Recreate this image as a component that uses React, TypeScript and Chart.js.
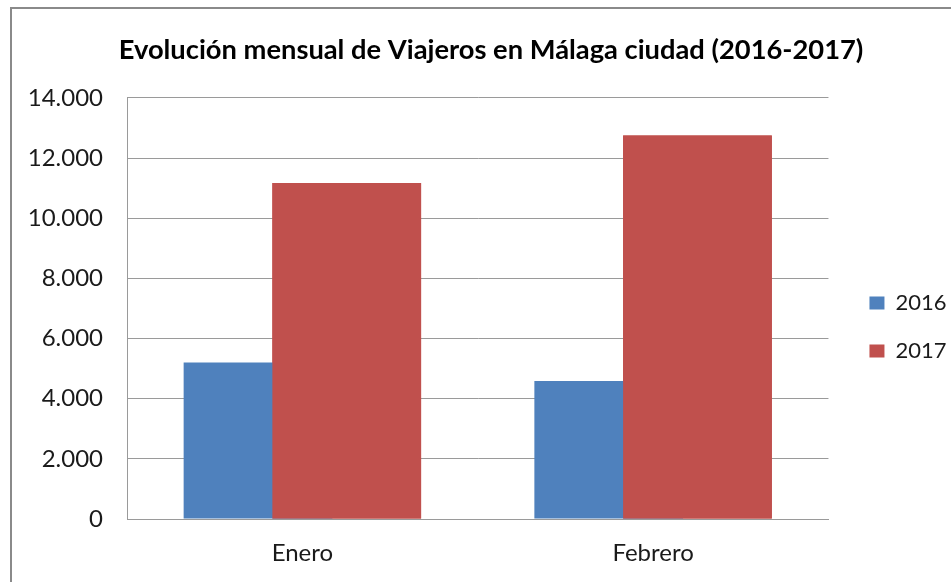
import React, { useEffect, useRef } from 'react';
import { Chart, registerables } from 'chart.js';

Chart.register(...registerables);

const chartTitle = 'Evolución mensual de Viajeros en Málaga ciudad (2016-2017)';
const categories = ['Enero', 'Febrero'];
const seriesLabels = ['2016', '2017'];
const values2016 = [5203, 4591];
const values2017 = [11176, 12754];
const yTickValues = [0, 2000, 4000, 6000, 8000, 10000, 12000, 14000];
const yTickLabels = ['0', '2.000', '4.000', '6.000', '8.000', '10.000', '12.000', '14.000'];
const seriesColors = ['#4F81BD', '#C0504D'];

// Excel-style overlap: later series drawn over the earlier one
const overlapPlugin = {
  id: 'overlapOrder',
  afterDatasetsDraw(chart: any) {
    const n = chart.data.datasets.length;
    for (let i = 1; i < n; i++) {
      const meta = chart.getDatasetMeta(i);
      if (meta && meta.visible !== false && meta.controller) meta.controller.draw();
    }
  },
};

export default function App() {
  const canvasRef = useRef<HTMLCanvasElement | null>(null);

  useEffect(() => {
    if (!canvasRef.current) return;
    const labelFont = { family: 'Lato', size: 24 };
    const legendFont = { family: 'Lato', size: 22 };
    const textColor = '#1a1a1a';
    const lineColor = '#9a9a9a';
    const sidePad = 15.5;
    const chart = new Chart(canvasRef.current, {
      type: 'bar',
      data: {
        labels: categories,
        datasets: [
          {
            label: seriesLabels[0],
            data: values2016,
            backgroundColor: seriesColors[0],
            categoryPercentage: 0.506,
            barPercentage: 1.676,
          },
          {
            label: seriesLabels[1],
            data: values2017,
            backgroundColor: seriesColors[1],
            categoryPercentage: 0.506,
            barPercentage: 1.676,
          },
        ],
      },
      plugins: [overlapPlugin],
      options: {
        responsive: false,
        animation: false,
        layout: { padding: { left: sidePad, right: sidePad, top: 0, bottom: 0 } },
        plugins: {
          title: {
            display: true,
            text: chartTitle,
            color: '#000',
            font: { family: 'Lato', size: 27.3, weight: 'bold' },
            padding: { top: 33.5, bottom: 31.7 },
          },
          legend: {
            position: 'right',
            fullSize: false,
            title: { display: true, text: '', font: { size: 10 }, padding: { top: 25, bottom: 0 } },
            labels: {
              font: legendFont,
              color: textColor,
              boxWidth: 15,
              boxHeight: 13,
              padding: 26,
            },
          },
          tooltip: { enabled: false },
        },
        scales: {
          x: {
            grid: { display: false },
            border: { display: true, color: lineColor },
            ticks: { font: labelFont, color: textColor, padding: 12 },
            afterFit: (s: any) => {
              s.height = 63;
            },
          },
          y: {
            min: 0,
            max: 14000,
            ticks: {
              stepSize: 2000,
              font: labelFont,
              color: textColor,
              padding: 24,
              callback: (v: any) => {
                const i = yTickValues.indexOf(Number(v));
                return i >= 0 ? yTickLabels[i] : '';
              },
            },
            grid: { color: lineColor, drawTicks: false },
            border: { display: true, color: lineColor },
            afterFit: (s: any) => {
              s.width = 117 - sidePad;
            },
          },
          y2: {
            position: 'right',
            display: true,
            grid: { display: false },
            border: { display: false },
            ticks: { display: false },
            afterFit: (s: any) => {
              s.width = 15;
            },
          },
        },
      },
    } as any);
    return () => chart.destroy();
  }, []);

  return (
    <div style={{ position: 'fixed', inset: 0, overflow: 'hidden', background: '#fff' }}>
      <div
        style={{
          position: 'absolute',
          left: 10,
          top: 7,
          width: 1000,
          height: 1000,
          border: '2px solid #8a8a8a',
          boxSizing: 'border-box',
        }}
      />
      <canvas
        ref={canvasRef}
        width={962}
        height={582}
        style={{ position: 'absolute', left: 10, top: 0, width: 962, height: 582 }}
      />
    </div>
  );
}
